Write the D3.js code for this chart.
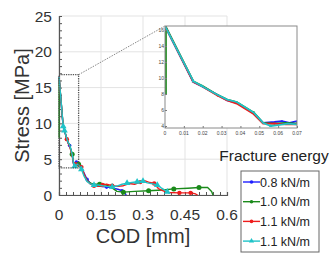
<!DOCTYPE html>
<html>
<head>
<meta charset="utf-8">
<script src="https://cdn.jsdelivr.net/npm/d3@7"></script>
<style>
	body { margin: 0; background: #fff; }
	svg { display: block; font-family: "Liberation Sans", Arial, sans-serif; }
</style>
</head>
<body>
<svg id="chart" width="332" height="257"></svg>
<script>
// ── data (COD in mm, stress in MPa) ─────────────────────────
const seriesNames = ['0.8 kN/m', '1.0 kN/m', '1.1 kN/m', '1.1 kN/m'];
const seriesColors = ['#1f1fff', '#1a8a1a', '#ee1c1c', '#1fc3c8'];
const seriesShapes = ['circle', 'circle', 'circle', 'triangle'];
const seriesMarkSize = [3.6, 5, 4.4, 4.6];

const blueCod = [0, 0.015, 0.02, 0.027, 0.033, 0.038, 0.047, 0.052, 0.058, 0.062, 0.066, 0.07, 0.078, 0.088, 0.1, 0.112, 0.13, 0.15, 0.17, 0.19, 0.21, 0.225, 0.235, 0.24];
const blueStress = [16.5, 9.5, 8.9, 8.0, 7.2, 6.9, 5.6, 4.4, 4.5, 4.6, 4.4, 4.6, 4.1, 3.2, 2.2, 1.6, 1.3, 1.2, 1.1, 1.0, 0.8, 0.6, 0.3, 0];
const blueMarks = [5, 9, 14, 18, 21];

const greenCod = [0.0005, 0.0005, 0.015, 0.02, 0.027, 0.033, 0.038, 0.047, 0.052, 0.058, 0.064, 0.07, 0.08, 0.09, 0.1, 0.115, 0.13, 0.145, 0.16, 0.175, 0.19, 0.207, 0.23, 0.27, 0.32, 0.37, 0.41, 0.46, 0.5, 0.53, 0.545, 0.55];
const greenStress = [8, 16.4, 9.6, 9.0, 8.0, 7.3, 7.0, 5.7, 4.4, 4.3, 4.4, 4.3, 3.8, 2.8, 2.0, 1.6, 1.5, 1.5, 1.5, 1.3, 1.0, 0.5, 0.4, 0.5, 0.6, 0.7, 0.85, 0.95, 1.05, 1.07, 0.5, 0];
const greenMarks = [7, 11, 17, 22, 24, 26, 28];

const redCod = [0, 0.015, 0.02, 0.028, 0.033, 0.038, 0.047, 0.052, 0.058, 0.064, 0.07, 0.08, 0.09, 0.1, 0.11, 0.125, 0.14, 0.155, 0.17, 0.19, 0.21, 0.23, 0.25, 0.27, 0.29, 0.305, 0.32, 0.34, 0.355, 0.37, 0.39, 0.43, 0.47, 0.485, 0.495];
const redStress = [16.5, 9.5, 8.9, 7.8, 7.2, 6.8, 5.5, 4.3, 4.3, 4.2, 4.2, 3.9, 2.9, 2.0, 1.6, 1.3, 1.2, 1.4, 1.5, 1.3, 1.2, 1.3, 1.6, 1.5, 1.8, 2.0, 1.8, 1.6, 0.9, 0.6, 0.35, 0.3, 0.3, 0.2, 0];
const redMarks = [3, 8, 11, 15, 17, 19, 24, 27, 31, 32];

const cyanCod = [0, 0.015, 0.0195, 0.027, 0.033, 0.038, 0.047, 0.052, 0.056, 0.06, 0.065, 0.07, 0.08, 0.09, 0.1, 0.11, 0.125, 0.14, 0.155, 0.17, 0.19, 0.207, 0.225, 0.243, 0.26, 0.279, 0.3, 0.315, 0.335, 0.351, 0.365, 0.375, 0.387, 0.395];
const cyanStress = [16.5, 9.6, 9.0, 8.0, 7.3, 7.0, 5.7, 4.4, 4.0, 4.1, 4.3, 4.2, 3.6, 2.6, 1.9, 1.6, 1.4, 1.4, 1.3, 1.2, 1.15, 1.25, 1.5, 1.65, 1.75, 1.85, 1.95, 1.7, 1.55, 1.4, 1.0, 0.75, 0.45, 0.2];
const cyanMarks = [1, 2, 8, 12, 16, 20, 23, 25, 26, 29, 32];

const xTicks = [0, 0.15, 0.3, 0.45, 0.6];
const yTicks = [0, 5, 10, 15, 20, 25];
const insetXTicks = [0, 0.01, 0.02, 0.03, 0.04, 0.05, 0.06, 0.07];
const insetYTicks = [4, 6, 8, 10, 12, 14, 16];
const zoomCod = [0, 0.07];
const zoomStress = [3.8, 16.8];

const allCod = [blueCod, greenCod, redCod, cyanCod];
const allStress = [blueStress, greenStress, redStress, cyanStress];
const allMarks = [blueMarks, greenMarks, redMarks, cyanMarks];

// ── layout ──────────────────────────────────────────────────
const svg = d3.select('#chart');

const x = d3.scaleLinear().domain([0, 0.6]).range([59, 227]);
const y = d3.scaleLinear().domain([0, 25]).range([195, 16]);
const ix = d3.scaleLinear().domain([0, 0.07]).range([165, 297]);
const iy = d3.scaleLinear().domain([3.75, 16.5]).range([128, 26]);

const series = seriesNames.map((name, i) => ({
	name,
	color: seriesColors[i],
	shape: seriesShapes[i],
	size: seriesMarkSize[i],
	points: allCod[i].map((c, j) => ({ cod: c, stress: allStress[i][j] })),
	marks: allMarks[i],
}));

function drawMarker(sel, shape, color, size) {
	if (shape === 'triangle') {
		return sel.append('path')
			.attr('d', d3.symbol(d3.symbolTriangle, size * size * 0.9)())
			.attr('fill', color);
	}
	return sel.append('circle').attr('r', size / 2).attr('fill', color);
}

function drawSeries(g, sx, sy, lineW, markScale) {
	const line = d3.line().x((d) => sx(d.cod)).y((d) => sy(d.stress));
	series.forEach((s) => {
		g.append('path')
			.datum(s.points)
			.attr('fill', 'none')
			.attr('stroke', s.color)
			.attr('stroke-width', lineW)
			.attr('stroke-linejoin', 'round')
			.attr('d', line);
		s.marks.forEach((k) => {
			const p = s.points[k];
			const m = g.append('g').attr('transform', `translate(${sx(p.cod)},${sy(p.stress)})`);
			drawMarker(m, s.shape, s.color, s.size * markScale);
		});
	});
}

// grid
const grid = svg.append('g').attr('stroke', '#e3e3e3').attr('stroke-width', 1);
xTicks.forEach((t) => {
	grid.append('line').attr('x1', x(t)).attr('x2', x(t)).attr('y1', y(0)).attr('y2', y(25));
});
yTicks.forEach((t) => {
	grid.append('line').attr('x1', x(0)).attr('x2', x(0.6)).attr('y1', y(t)).attr('y2', y(t));
});

// axes with inward minor ticks
const xAxis = svg.append('g').attr('transform', `translate(0,${y(0)})`)
	.call(d3.axisBottom(x).tickValues(d3.range(0, 0.6001, 0.025)).tickSize(-3).tickFormat(''));
const yAxis = svg.append('g').attr('transform', `translate(${x(0)},0)`)
	.call(d3.axisLeft(y).tickValues(d3.range(0, 25.01, 1)).tickSize(-3).tickFormat(''));
[xAxis, yAxis].forEach((a) => {
	a.selectAll('path, line').attr('stroke', '#555');
	a.select('.domain').attr('stroke-width', 1.2);
});

svg.append('g').selectAll('text').data(xTicks).join('text')
	.attr('x', (d) => x(d)).attr('y', 220)
	.attr('text-anchor', 'middle').attr('font-size', '15.5px').attr('fill', '#333')
	.text((d) => d3.format('~g')(d));

svg.append('g').selectAll('text').data(yTicks).join('text')
	.attr('x', 52).attr('y', (d) => y(d)).attr('dy', '0.36em')
	.attr('text-anchor', 'end').attr('font-size', '15.5px').attr('fill', '#333')
	.text((d) => d);

svg.append('text')
	.attr('transform', `translate(29,${(y(0) + y(25)) / 2}) rotate(-90)`)
	.attr('text-anchor', 'middle').attr('font-size', '20px').attr('fill', '#333')
	.text('Stress [MPa]');
svg.append('text')
	.attr('x', (x(0) + x(0.6)) / 2).attr('y', 243)
	.attr('text-anchor', 'middle').attr('font-size', '20px').attr('fill', '#333')
	.text('COD [mm]');

// main curves
drawSeries(svg.append('g'), x, y, 1.4, 1);

// zoom box and connector
svg.append('rect')
	.attr('x', x(zoomCod[0])).attr('y', y(zoomStress[1]))
	.attr('width', x(zoomCod[1]) - x(zoomCod[0]))
	.attr('height', y(zoomStress[0]) - y(zoomStress[1]))
	.attr('fill', 'none').attr('stroke', '#555').attr('stroke-width', 1.3)
	.attr('stroke-dasharray', '1.3,1');
svg.append('line')
	.attr('x1', x(zoomCod[1])).attr('y1', y(zoomStress[1]))
	.attr('x2', ix(0)).attr('y2', iy(16.5))
	.attr('stroke', '#888').attr('stroke-width', 1).attr('stroke-dasharray', '1.5,1.2');

// inset
const inset = svg.append('g');
inset.append('rect')
	.attr('x', ix(0)).attr('y', iy(16.5))
	.attr('width', ix(0.07) - ix(0)).attr('height', iy(3.75) - iy(16.5))
	.attr('fill', '#fff');
svg.append('clipPath').attr('id', 'inset-clip').append('rect')
	.attr('x', ix(0)).attr('y', iy(16.5))
	.attr('width', ix(0.07) - ix(0)).attr('height', iy(3.75) - iy(16.5));
drawSeries(inset.append('g').attr('clip-path', 'url(#inset-clip)'), ix, iy, 1.8, 0.5);

const iax = inset.append('g').attr('transform', `translate(0,${iy(3.75)})`)
	.call(d3.axisBottom(ix).tickValues(insetXTicks).tickSize(-2).tickFormat(''));
const iay = inset.append('g').attr('transform', `translate(${ix(0)},0)`)
	.call(d3.axisLeft(iy).tickValues(insetYTicks).tickSize(-2).tickFormat(''));
[iax, iay].forEach((a) => {
	a.selectAll('line').attr('stroke', '#777');
	a.select('.domain').remove();
});
inset.append('rect')
	.attr('x', ix(0)).attr('y', iy(16.5))
	.attr('width', ix(0.07) - ix(0)).attr('height', iy(3.75) - iy(16.5))
	.attr('fill', 'none').attr('stroke', '#8a8a8a').attr('stroke-width', 1);

inset.append('g').selectAll('text').data(insetXTicks).join('text')
	.attr('x', (d) => ix(d)).attr('y', 135)
	.attr('text-anchor', 'middle').attr('font-size', '5px').attr('fill', '#444')
	.text((d) => d === 0 ? '0' : d3.format('.2f')(d));
inset.append('g').selectAll('text').data(insetYTicks).join('text')
	.attr('x', 164).attr('y', (d) => iy(d)).attr('dy', '0.35em')
	.attr('text-anchor', 'end').attr('font-size', '5px').attr('fill', '#444')
	.text((d) => d);

// legend
svg.append('text')
	.attr('x', 274).attr('y', 161)
	.attr('text-anchor', 'middle').attr('font-size', '15.5px').attr('fill', '#222')
	.text('Fracture energy');

const legend = svg.append('g');
legend.append('rect')
	.attr('x', 241).attr('y', 171).attr('width', 78).attr('height', 81)
	.attr('fill', '#fff').attr('stroke', '#666').attr('stroke-width', 1);

series.forEach((s, i) => {
	const row = legend.append('g').attr('transform', `translate(243,${182 + i * 19.7})`);
	row.append('line').attr('x1', 0).attr('x2', 17).attr('stroke', s.color).attr('stroke-width', 1.4);
	drawMarker(row.append('g').attr('transform', 'translate(8.5,0)'), s.shape, s.color, 3.6);
	row.append('text')
		.attr('x', 17).attr('dy', '0.36em')
		.attr('font-size', '12.5px').attr('fill', '#222')
		.text(s.name);
});
</script>
</body>
</html>
